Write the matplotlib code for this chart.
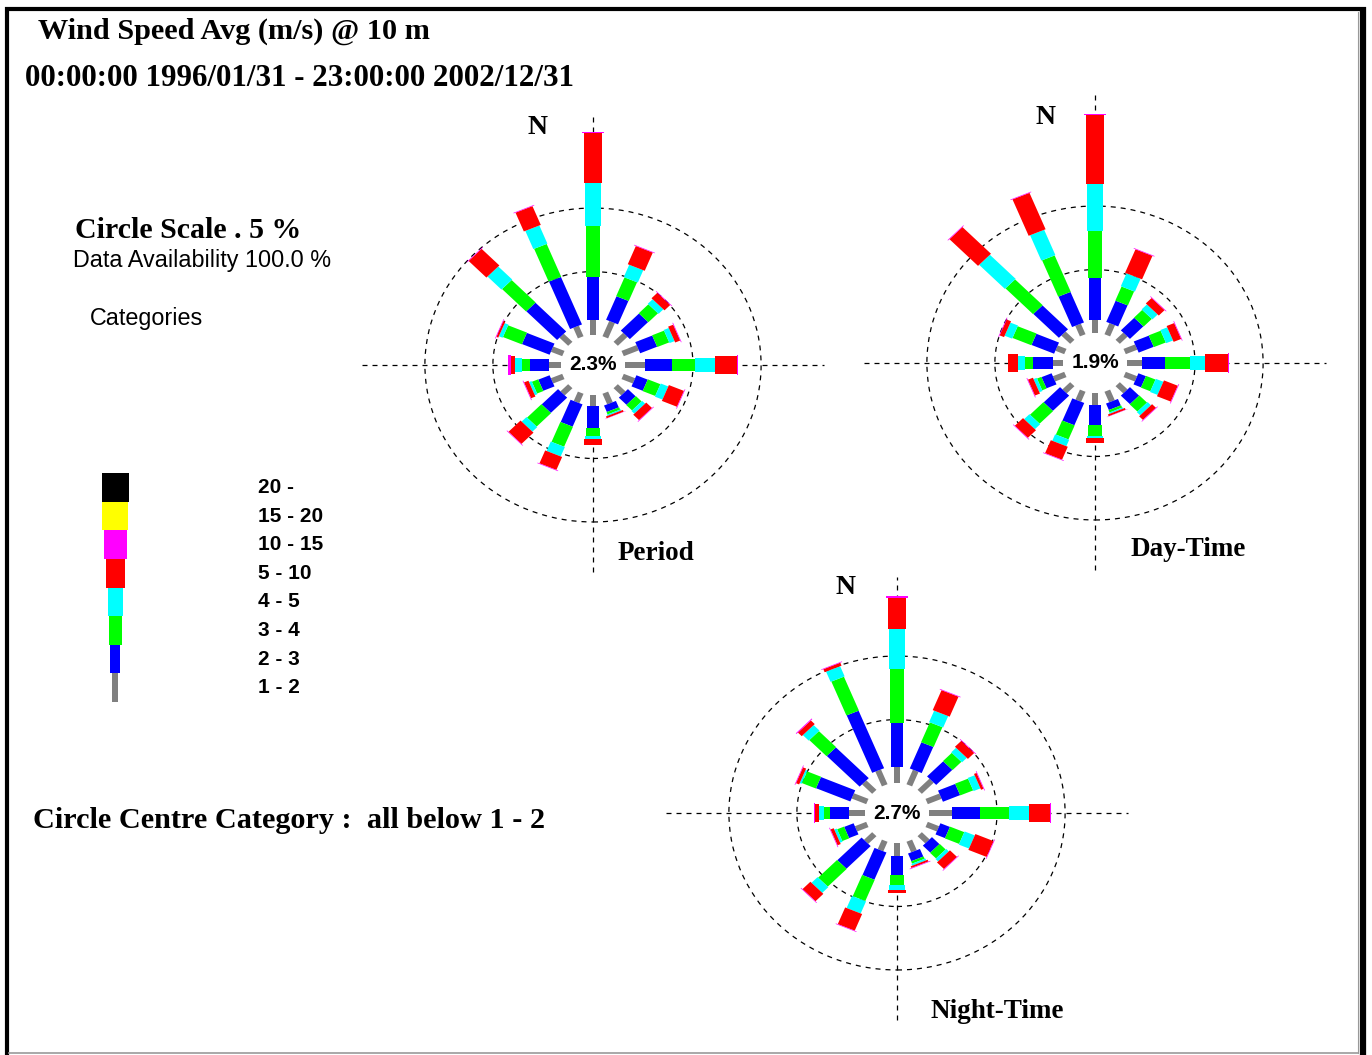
import matplotlib

matplotlib.use('Agg')
import matplotlib.pyplot as plt
from matplotlib.patches import Rectangle, Circle
from matplotlib.transforms import Affine2D

W, H = 1372, 1055

DIRECTIONS = ['N', 'NNE', 'NE', 'ENE', 'E', 'ESE', 'SE', 'SSE',
              'S', 'SSW', 'SW', 'WSW', 'W', 'WNW', 'NW', 'NNW']
CATEGORIES = ['1 - 2', '2 - 3', '3 - 4', '4 - 5', '5 - 10', '10 - 15', '15 - 20', '20 -']
COLORS = ['#808080', '#0000ff', '#00ff00', '#00ffff', '#ff0000', '#ff00ff', '#ffff00', '#000000']

# frequency (%) by direction; columns are speed classes 1-2, 2-3, 3-4, 4-5, 5-10, 10-15 m/s
PERIOD = [
    [1.20, 3.40, 4.00, 3.40, 3.90, 0.10],
    [1.30, 2.00, 1.60, 1.05, 1.55, 0.05],
    [1.00, 1.90, 1.00, 0.50, 0.60, 0.05],
    [1.20, 1.35, 0.95, 0.40, 0.40, 0.05],
    [1.50, 1.95, 1.70, 1.45, 1.65, 0.05],
    [0.90, 0.90, 1.00, 0.60, 1.20, 0.05],
    [0.80, 0.80, 0.60, 0.30, 0.60, 0.05],
    [0.90, 0.55, 0.20, 0.10, 0.15, 0.02],
    [0.90, 1.70, 0.65, 0.25, 0.40, 0.02],
    [0.80, 1.90, 1.70, 0.80, 1.10, 0.05],
    [0.80, 1.70, 1.50, 0.50, 1.25, 0.05],
    [0.90, 0.90, 0.50, 0.20, 0.35, 0.05],
    [0.90, 1.35, 0.60, 0.50, 0.35, 0.20],
    [0.90, 2.20, 1.50, 0.30, 0.15, 0.05],
    [0.90, 3.20, 2.50, 1.45, 1.85, 0.05],
    [0.90, 4.05, 2.80, 1.55, 1.60, 0.05],
]
DAY = [
    [1.05, 3.30, 3.70, 3.70, 5.40, 0.10],
    [0.95, 1.80, 1.20, 1.10, 2.00, 0.05],
    [0.80, 1.40, 0.85, 0.55, 0.60, 0.05],
    [0.92, 1.20, 0.95, 0.55, 0.60, 0.05],
    [1.06, 1.72, 1.83, 1.10, 1.70, 0.05],
    [0.90, 0.60, 0.75, 0.60, 1.10, 0.05],
    [0.80, 0.95, 0.80, 0.35, 0.40, 0.05],
    [0.90, 0.55, 0.20, 0.10, 0.15, 0.02],
    [0.92, 1.58, 0.90, 0.13, 0.40, 0.02],
    [0.85, 1.90, 1.20, 0.55, 1.10, 0.05],
    [0.80, 1.70, 1.40, 0.55, 0.85, 0.05],
    [0.90, 0.80, 0.35, 0.25, 0.40, 0.05],
    [0.70, 1.47, 0.62, 0.49, 0.73, 0.05],
    [0.70, 1.80, 1.50, 0.60, 0.35, 0.05],
    [0.92, 2.66, 2.87, 2.68, 2.97, 0.05],
    [0.90, 2.60, 3.10, 2.16, 3.10, 0.05],
]
NIGHT = [
    [1.30, 3.43, 4.21, 3.15, 2.50, 0.10],
    [1.24, 2.23, 1.69, 0.97, 1.70, 0.05],
    [1.24, 1.68, 0.92, 0.50, 0.66, 0.05],
    [1.10, 1.37, 1.03, 0.55, 0.20, 0.05],
    [1.67, 2.09, 2.08, 1.47, 1.59, 0.10],
    [0.90, 0.76, 1.13, 0.81, 1.45, 0.05],
    [0.80, 0.78, 0.62, 0.27, 0.73, 0.05],
    [0.90, 0.65, 0.20, 0.15, 0.15, 0.05],
    [1.05, 1.45, 0.79, 0.39, 0.27, 0.02],
    [0.81, 2.32, 1.81, 1.03, 1.42, 0.05],
    [0.85, 2.52, 1.97, 0.63, 0.82, 0.05],
    [0.90, 0.75, 0.55, 0.20, 0.25, 0.05],
    [1.18, 1.35, 0.49, 0.37, 0.30, 0.07],
    [1.16, 2.73, 1.11, 0.15, 0.25, 0.05],
    [1.05, 3.42, 1.79, 0.61, 0.40, 0.07],
    [1.26, 4.90, 2.89, 0.87, 0.25, 0.05],
]
CALM = [2.3, 1.9, 2.7]
ROSE_NAMES = ['Period', 'Day-Time', 'Night-Time']

# layout (pixels)
CENTRES = [(593, 365), (1095, 363), (897, 813)]
N_LABELS = [(538, 128), (1046, 117), (846, 587)]
NAME_LABELS = [(656, 553), (1188, 549), (997, 1011)]
PX_X, PX_Y = 13.6, 12.7          # pixels per percent
HUB = 2.36                        # calm circle radius, percent units
RINGS = [5, 10]
BAR_W = [0.45, 0.95, 1.0, 1.12, 1.35, 1.65, 1.8, 1.95]
LEG_W = [6, 10, 13, 15, 19, 23, 26, 27]
LEG_H = 28.6

SERIF = ['Liberation Serif', 'DejaVu Serif']
SANS = ['Liberation Sans', 'DejaVu Sans']
DASH = (0, (4, 4))

fig = plt.figure(figsize=(W / 100, H / 100), dpi=100)
bg = fig.add_axes([0, 0, 1, 1])
bg.set_xlim(0, W)
bg.set_ylim(H, 0)
bg.axis('off')


def draw_rose(data, calm, centre):
    cx, cy = centre
    half = 22
    w, h = 2 * half * PX_X, 2 * half * PX_Y
    ax = fig.add_axes([(cx - w / 2) / W, 1 - (cy + h / 2) / H, w / W, h / H])
    ax.set_xlim(-half, half)
    ax.set_ylim(-half, half)
    ax.axis('off')

    north_tip = HUB + sum(data[0])
    ax.plot([-17, 17], [0, 0], color='black', lw=0.9, ls=DASH, zorder=1)
    ax.plot([0, 0], [-16.3, north_tip + 1.5], color='black', lw=0.9, ls=DASH, zorder=1)
    for r in RINGS:
        ax.add_patch(Circle((0, 0), HUB + r, fill=False, ec='black', lw=0.9, ls=DASH, zorder=1))
    ax.add_patch(Circle((0, 0), HUB, fc='white', ec='none', zorder=2))

    for i, row in enumerate(data):
        rot = Affine2D().rotate_deg(-22.5 * i) + ax.transData
        r0 = HUB
        for k, v in enumerate(row):
            ax.add_patch(Rectangle((-BAR_W[k] / 2, r0), BAR_W[k], v, transform=rot,
                                   fc=COLORS[k], ec='none', zorder=3))
            r0 += v

    ax.text(0, 0, f'{calm}%', ha='center', va='center', fontsize=15, fontweight='bold',
            family=SANS, zorder=5)


for data, calm, centre in zip([PERIOD, DAY, NIGHT], CALM, CENTRES):
    draw_rose(data, calm, centre)

for (x, y) in N_LABELS:
    bg.text(x, y, 'N', ha='center', va='center', fontsize=20, fontweight='bold', family=SERIF)
for name, (x, y) in zip(ROSE_NAMES, NAME_LABELS):
    bg.text(x, y, name, ha='center', va='center', fontsize=19.5, fontweight='bold', family=SERIF)

# headings and notes
bg.text(38, 31, 'Wind Speed Avg (m/s) @ 10 m', va='center', fontsize=21.8,
        fontweight='bold', family=SERIF)
bg.text(25, 78, '00:00:00 1996/01/31 - 23:00:00 2002/12/31', va='center', fontsize=22.3,
        fontweight='bold', family=SERIF)
bg.text(75, 231, 'Circle Scale . 5 %', va='center', fontsize=21.5, fontweight='bold', family=SERIF)
bg.text(73, 260, 'Data Availability 100.0 %', va='center', fontsize=16.8, family=SANS)
bg.text(90, 318, 'Categories', va='center', fontsize=16.8, family=SANS)
bg.text(33, 820, 'Circle Centre Category :  all below 1 - 2', va='center', fontsize=21.8,
        fontweight='bold', family=SERIF)

# speed category key
base = 702
for k, label in enumerate(CATEGORIES):
    top = base - (k + 1) * LEG_H
    bg.bar(115, LEG_H, bottom=top, width=LEG_W[k], color=COLORS[k], linewidth=0)
    bg.text(258, top + LEG_H / 2, label, va='center', fontsize=15, fontweight='bold', family=SANS)

# page frame
bg.plot([5, 1366], [9, 9], color='black', lw=3, solid_capstyle='butt')
bg.plot([7, 7], [7, H], color='black', lw=3, solid_capstyle='butt')
bg.plot([1363, 1363], [7, H], color='black', lw=4.5, solid_capstyle='butt')
bg.plot([1358, 1358], [12, 1053], color='#999999', lw=0.8)
bg.plot([9, 1358], [1053, 1053], color='#999999', lw=1.2)

fig.savefig('out.png', dpi=100)
